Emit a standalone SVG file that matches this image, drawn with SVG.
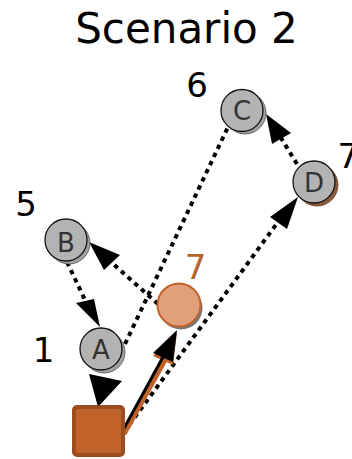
<svg xmlns="http://www.w3.org/2000/svg" width="352" height="459" viewBox="0 0 352 459">
<style>
.t{font-family:"DejaVu Sans",sans-serif}
.num{font-family:"DejaVu Sans",sans-serif;font-size:34px;fill:#000}
.lbl{font-family:"DejaVu Sans",sans-serif;font-size:26px;fill:#333;text-anchor:middle}
.node{fill:#b3b3b3;stroke:#111;stroke-width:1.3}
.sh{fill:#a0a0a0;stroke:#555;stroke-width:0.8}
.dot{fill:none;stroke:#000;stroke-width:4;stroke-dasharray:4.5 4.5}
.head{fill:#000}
</style>
<rect width="352" height="459" fill="#fff"/>
<text class="t" x="186.5" y="43" font-size="42" text-anchor="middle" fill="#000">Scenario 2</text>

<g id="connectors">
  <!-- B -> A -->
  <line class="dot" x1="67" y1="262" x2="85" y2="300"/>
  <polygon class="head" points="76,303 94,299 100,327"/>
  <!-- A -> square -->
  <polygon class="head" points="89,374 122,381 98,407"/>
  <!-- orange -> B -->
  <line class="dot" x1="158" y1="304" x2="111" y2="262"/>
  <polygon class="head" points="89,242 120,255 104,270"/>
  <!-- A -> C -->
  <line class="dot" x1="125" y1="344" x2="228" y2="127"/>
  <!-- square -> D -->
  <line class="dot" x1="124" y1="432" x2="278" y2="222"/>
  <polygon class="head" points="298,197 270,217 287,229"/>
  <!-- D -> C -->
  <line class="dot" x1="297" y1="164" x2="281" y2="138"/>
  <polygon class="head" points="266,114 291,133 272,144"/>
  <!-- square -> orange (solid) -->
  <line x1="124" y1="434" x2="165" y2="360" stroke="#c0622a" stroke-width="5"/>
  <polygon points="177,333 153,356 173,365" fill="#c0622a"/>
  <line x1="122" y1="432" x2="163" y2="357" stroke="#000" stroke-width="3"/>
  <polygon class="head" points="177,330 153,353 173,362"/>
</g>

<g id="node-B">
  <circle class="sh" cx="69" cy="243" r="21"/>
  <circle class="node" cx="66" cy="240" r="21"/>
  <text class="lbl" x="66" y="252">B</text>
  <text class="num" x="26" y="216" text-anchor="middle">5</text>
</g>
<g id="node-A">
  <circle class="sh" cx="104" cy="352" r="21"/>
  <circle class="node" cx="101" cy="349" r="21"/>
  <text class="lbl" x="101" y="358.5">A</text>
  <text class="num" x="43.5" y="362" text-anchor="middle">1</text>
</g>
<g id="node-C">
  <circle class="sh" cx="245" cy="113" r="21"/>
  <circle class="node" cx="242" cy="110.5" r="21"/>
  <text class="lbl" x="242" y="120">C</text>
  <text class="num" x="197" y="97" text-anchor="middle">6</text>
</g>
<g id="node-D">
  <circle cx="317" cy="185" r="21" fill="#8b5a3c" stroke="#6b3f25" stroke-width="0.8"/>
  <circle class="node" cx="314" cy="182" r="21"/>
  <text class="lbl" x="314" y="191.5">D</text>
  <text class="num" x="337.5" y="168">7</text>
</g>
<g id="node-orange">
  <circle cx="181" cy="308" r="21.5" fill="#777"/>
  <circle cx="179" cy="305" r="21.5" fill="#e0a07c" stroke="#c0622a" stroke-width="2"/>
  <text class="num" x="195.5" y="279" text-anchor="middle" style="fill:#b5652f">7</text>
</g>
<g id="node-square">
  <rect x="74" y="407" width="49" height="48" rx="3" fill="#c2622b" stroke="#9c4e21" stroke-width="4"/>
</g>
</svg>
